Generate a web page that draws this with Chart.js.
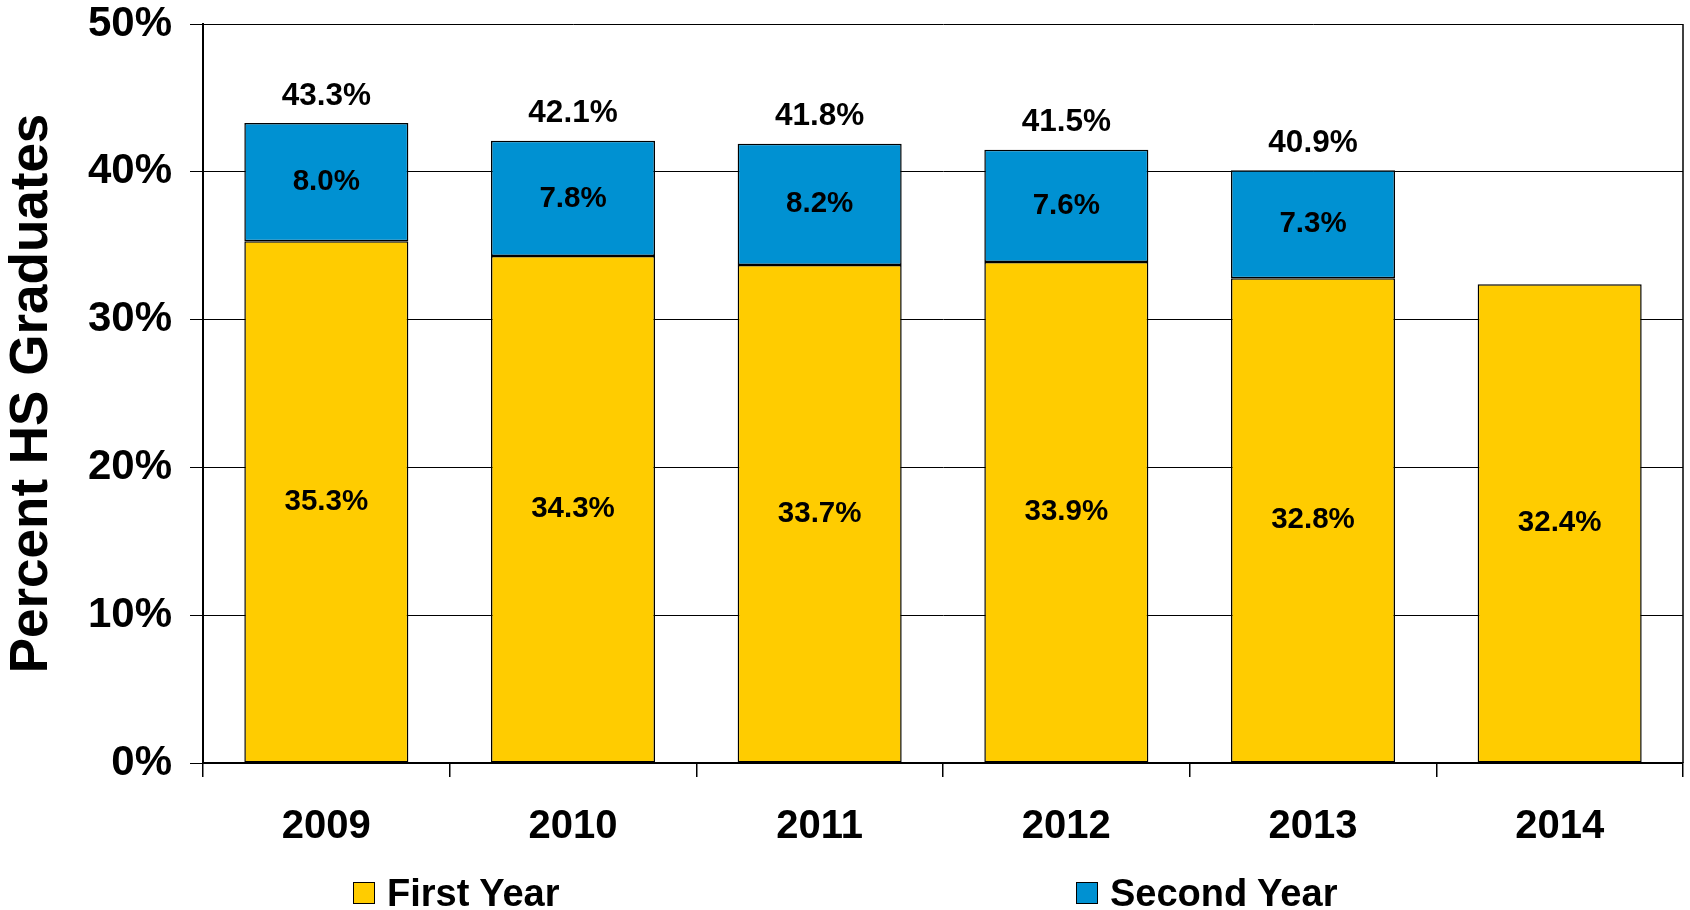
<!DOCTYPE html>
<html>
<head>
<meta charset="utf-8">
<script src="https://cdn.jsdelivr.net/npm/chart.js@4.4.1/dist/chart.umd.min.js"></script>
<style>
  body { margin: 0; background: #fff; }
  #wrap { position: relative; width: 1690px; height: 910px; }
  .legend-item {
    position: absolute; top: 872px; height: 42px;
    display: flex; align-items: center;
    font: bold 38px "Liberation Sans", Arial, sans-serif; color: #000;
  }
  .legend-item span.box {
    display: inline-block; width: 20px; height: 20px;
    border: 1.5px solid #000; margin-right: 12px;
  }
</style>
</head>
<body>
<div id="wrap">
  <canvas id="hsChart" width="1690" height="910"></canvas>
  <div class="legend-item" style="left:353px"><span class="box" style="background:#FFCC00"></span>First Year</div>
  <div class="legend-item" style="left:1076px"><span class="box" style="background:#0091D2"></span>Second Year</div>
</div>
<script>
  const years = ['2009', '2010', '2011', '2012', '2013', '2014'];
  const firstYear = [35.3, 34.3, 33.7, 33.9, 32.8, 32.4];
  const secondYear = [8.0, 7.8, 8.2, 7.6, 7.3, null];
  const totalLabels = [43.3, 42.1, 41.8, 41.5, 40.9, null];
  const yTicks = [0, 10, 20, 30, 40, 50];

  const FONT = '"Liberation Sans", Arial, sans-serif';

  // labels inside bars and totals above them
  const barLabels = {
    id: 'barLabels',
    afterDatasetsDraw(chart) {
      const ctx = chart.ctx;
      const y = chart.scales.y;
      ctx.save();
      ctx.fillStyle = '#000';
      ctx.textAlign = 'center';
      ctx.textBaseline = 'middle';
      ctx.font = 'bold 29.5px ' + FONT;
      chart.data.datasets.forEach((ds, i) => {
        const meta = chart.getDatasetMeta(i);
        meta.data.forEach((bar, j) => {
          const v = ds.data[j];
          if (v == null) return;
          const mid = (bar.y + bar.base) / 2;
          ctx.fillText(v.toFixed(1) + '%', bar.x, mid);
        });
      });
      ctx.font = 'bold 31.5px ' + FONT;
      const meta0 = chart.getDatasetMeta(0);
      totalLabels.forEach((t, j) => {
        if (t == null) return;
        const top = firstYear[j] + (secondYear[j] || 0);
        ctx.fillText(t.toFixed(1) + '%', meta0.data[j].x, y.getPixelForValue(top) - 27);
      });
      ctx.restore();
    }
  };

  // right-hand frame line
  const frame = {
    id: 'frame',
    afterDraw(chart) {
      const a = chart.chartArea;
      const ctx = chart.ctx;
      ctx.save();
      ctx.strokeStyle = '#000';
      ctx.lineWidth = 1.5;
      ctx.beginPath();
      ctx.moveTo(a.right, a.top);
      ctx.lineTo(a.right, a.bottom);
      ctx.stroke();
      ctx.restore();
    }
  };

  const config = {
    type: 'bar',
    data: {
      labels: years,
      datasets: [{
        label: 'First Year',
        data: firstYear,
        backgroundColor: '#FFCC00',
        borderColor: '#000',
        borderWidth: 1.5,
        borderSkipped: false
      }, {
        label: 'Second Year',
        data: secondYear,
        backgroundColor: '#0091D2',
        borderColor: '#000',
        borderWidth: 1.5,
        borderSkipped: false
      }]
    },
    options: {
      responsive: false,
      animation: false,
      layout: { padding: { top: 0, right: 7, bottom: 60, left: 0 } },
      plugins: {
        legend: { display: false },
        tooltip: { enabled: false }
      },
      datasets: { bar: { barPercentage: 0.665, categoryPercentage: 1 } },
      scales: {
        x: {
          stacked: true,
          grid: { offset: true, drawOnChartArea: false, drawTicks: true, tickLength: 14, color: '#000', lineWidth: 1.5 },
          border: { color: '#000', width: 2 },
          ticks: { color: '#000', padding: 26, font: { family: FONT, size: 40, weight: 'bold' } },
          afterFit(scale) { scale.height = 910 - 763 - 60; }
        },
        y: {
          stacked: true,
          min: 0,
          max: 50,
          afterBuildTicks(scale) { scale.ticks = yTicks.map(v => ({ value: v })); },
          grid: { color: '#000', lineWidth: 1, tickLength: 13 },
          border: { color: '#000', width: 2 },
          ticks: {
            color: '#000', padding: 18,
            font: { family: FONT, size: 42, weight: 'bold' },
            callback: v => v + '%'
          },
          title: {
            display: true,
            text: 'Percent HS Graduates',
            color: '#000',
            padding: { top: 1, bottom: 0 },
            font: { family: FONT, size: 53, weight: 'bold' }
          },
          afterFit(scale) {
            scale.width = 203;
            scale.paddingTop = 24;
            scale.paddingBottom = 0;
          }
        }
      }
    },
    plugins: [barLabels, frame]
  };

  window.onload = function() {
    const ctx = document.getElementById('hsChart').getContext('2d');
    new Chart(ctx, config);
  };
</script>
</body>
</html>
